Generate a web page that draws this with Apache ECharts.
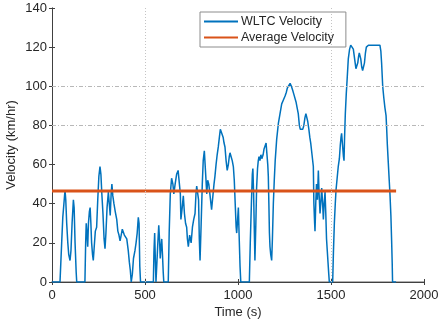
<!DOCTYPE html>
<html>
<head>
<meta charset="utf-8">
<script src="https://cdn.jsdelivr.net/npm/echarts@6/dist/echarts.min.js"></script>
<style>
  html, body { margin: 0; padding: 0; background: #fff; }
  #chart { width: 438px; height: 325px; }
</style>
</head>
<body>
<div id="chart"></div>
<script>
// WLTC velocity trace (time in s, speed in km/h)
var times = [
  0, 43, 52, 58, 64, 70, 74, 79, 85, 90, 97, 102, 108, 115, 119, 124, 130, 133,
  177, 181, 184, 188, 192, 196, 201, 205, 209, 213, 218, 222, 227, 233, 240, 246,
  252, 258, 263, 268, 274, 280, 285, 290, 296, 303, 308, 313, 318, 322, 327, 333,
  340, 348, 354, 360, 366, 372, 378, 383, 389, 395, 402, 410, 416, 421, 426, 432,
  438, 446, 452, 458, 464, 468, 472, 476,
  545, 548, 552, 556, 559, 563, 568, 574, 578, 582, 586, 590, 594, 598, 601,
  625, 630, 636, 643, 650, 655, 662, 670, 678, 685, 690, 693, 700, 706, 712, 718,
  724, 728, 733, 740, 748, 755, 762, 769, 774, 778, 783, 788, 792, 796, 802, 808,
  813, 819, 824, 828, 832, 837, 843, 850, 858, 865, 871, 876, 882, 888, 894, 900,
  905, 909, 914, 920, 925, 930, 936, 942, 948, 953, 957, 963, 969, 975, 980, 985,
  990, 993, 998, 1002, 1006, 1011, 1015,
  1061, 1066, 1072, 1077, 1080, 1084, 1088, 1091, 1096, 1100, 1105, 1109, 1113,
  1118, 1123, 1128, 1135, 1140, 1146, 1151, 1155, 1160, 1163, 1166, 1169, 1172,
  1176, 1181, 1185, 1190, 1195, 1200, 1208, 1217, 1226, 1230, 1235, 1244, 1253,
  1260, 1265, 1272, 1280, 1287, 1294, 1300, 1306, 1312, 1318, 1324, 1330, 1335,
  1342, 1348, 1354, 1360, 1365, 1369, 1375, 1381, 1386, 1391, 1398, 1405, 1408,
  1412, 1414, 1418, 1422, 1427, 1432, 1436, 1441, 1445, 1450, 1455, 1459, 1463,
  1468, 1472, 1476, 1480, 1484, 1488, 1491,
  1509, 1513, 1518, 1523, 1527, 1533, 1539, 1545, 1550, 1554, 1557, 1562, 1567,
  1570, 1573, 1577, 1582, 1587, 1593, 1600, 1606, 1614, 1620, 1627, 1634, 1640,
  1644, 1648, 1652, 1656, 1660, 1665, 1670, 1675, 1680, 1685, 1690, 1695, 1701,
  1763, 1768, 1772, 1778, 1784, 1790, 1796, 1799, 1803, 1808, 1813, 1817, 1822,
  1826, 1829, 1831, 1850
];
var speeds = [
  0, 0, 20, 33, 40, 47, 42, 30, 20, 14, 11, 16, 30, 42, 38, 20, 5, 0,
  0, 20, 30, 25, 18, 30, 36, 38, 30, 20, 14, 11, 18, 26, 28, 42,
  54, 59, 55, 45, 35, 22, 17, 25, 38, 46, 40, 34, 45, 50, 44, 40,
  36, 32, 26, 24, 21, 24, 27, 27, 24, 24, 22, 16, 10, 6, 0, 4,
  12, 16, 20, 25, 33, 30, 8, 0,
  0, 15, 25, 10, 0, 0, 18, 29, 22, 12, 18, 22, 14, 5, 0,
  0, 25, 45, 53, 50, 45, 50, 55, 57, 58, 45, 32, 38, 44, 35, 30,
  28, 22, 18, 24, 20, 28, 32, 35, 45, 49, 50, 42, 22, 11, 30, 50,
  62, 67, 67, 52, 45, 52, 50, 44, 37, 44, 50, 54, 60, 65, 69, 74,
  78, 78, 77, 74, 71, 69, 62, 57, 60, 64, 66, 64, 62, 59, 52, 40,
  28, 25, 32, 38, 24, 8, 0,
  0, 20, 40, 55, 58, 45, 25, 11, 30, 48, 58, 62, 64,
  62, 65, 63, 65, 68, 69, 71, 66, 60, 54, 40, 25, 18,
  14, 11, 22, 40, 52, 62, 73, 81, 86, 86, 91, 93, 95,
  97, 99, 100, 101.5, 100, 98, 96, 95, 92, 89, 86, 80, 78,
  79, 78, 80, 84, 86, 85, 82, 78, 74, 71, 65, 59, 40,
  30, 26, 40, 50, 42, 57, 45, 35, 40, 48, 40, 32, 40,
  46, 35, 22, 16, 10, 4, 0,
  0, 15, 30, 40, 47, 53, 59, 63, 70, 74, 76, 70, 64,
  62, 74, 86, 96, 104, 114, 119, 121, 121, 119, 114, 109, 108,
  112, 115, 117, 118, 114, 110, 108, 108, 112, 117, 120, 121, 121,
  121, 118, 112, 100, 94, 89, 85, 79, 70, 61, 52, 45, 34,
  21, 10, 0, 0
];
var avgSpeed = 46.5;
var avgSpan = [0, 1850];
var xTicks = { min: 0, max: 2000, step: 500 };
var yTicks = { min: 0, max: 140, step: 20 };

var trace = times.map(function (t, i) { return [t, speeds[i]]; });
var avgLine = avgSpan.map(function (t) { return [t, avgSpeed]; });

var myChart = echarts.init(document.getElementById('chart'));
var txt = '#262626';
var font = 'Liberation Sans, Arial, sans-serif';

var option = {
  animation: false,
  backgroundColor: '#fff',
  textStyle: { fontFamily: font },
  grid: { left: 52, right: 14, top: 8, bottom: 43, containLabel: false, outerBoundsMode: 'none' },
  legend: {
    orient: 'vertical',
    left: 200,
    top: 12,
    padding: [3, 12, 3, 4],
    itemGap: 3,
    itemWidth: 34,
    itemHeight: 2,
    icon: 'rect',
    borderColor: '#8c8c8c',
    borderWidth: 1,
    backgroundColor: '#fff',
    textStyle: { fontSize: 12.5, color: txt, fontFamily: font, padding: [0, 0, 0, -2] },
    data: ['WLTC Velocity', 'Average Velocity']
  },
  xAxis: [
    {
      type: 'value', min: xTicks.min, max: xTicks.max, interval: xTicks.step,
      name: 'Time (s)', nameLocation: 'middle', nameGap: 24, nameMoveOverlap: false,
      nameTextStyle: { fontSize: 13, color: txt },
      axisLine: { lineStyle: { color: '#b0b0b0', width: 2 } },
      axisTick: { inside: true, length: 3, lineStyle: { color: '#404040' } },
      axisLabel: { fontSize: 13, color: txt, margin: 7, formatter: function (v) { return String(v); } },
      splitLine: { show: false }
    },
    {
      type: 'value', position: 'top', min: xTicks.min, max: xTicks.max, interval: xTicks.step,
      axisLine: { show: true, lineStyle: { color: '#404040', width: 1 } },
      axisTick: { inside: true, length: 3, lineStyle: { color: '#404040' } },
      axisLabel: { show: false },
      splitLine: { show: false }
    }
  ],
  yAxis: [
    {
      type: 'value', min: yTicks.min, max: yTicks.max, interval: yTicks.step,
      name: 'Velocity (km/hr)', nameLocation: 'middle', nameGap: 34, nameMoveOverlap: false,
      nameTextStyle: { fontSize: 13, color: txt },
      axisLine: { show: true, lineStyle: { color: '#707070', width: 1 } },
      axisTick: { show: true, inside: true, length: 3, lineStyle: { color: '#404040' } },
      axisLabel: { fontSize: 13, color: txt, margin: 5 },
      splitLine: { show: false }
    },
    {
      type: 'value', position: 'right', min: yTicks.min, max: yTicks.max, interval: yTicks.step,
      axisLine: { show: true, lineStyle: { color: '#404040', width: 1 } },
      axisTick: { show: true, inside: true, length: 3, lineStyle: { color: '#404040' } },
      axisLabel: { show: false },
      splitLine: { show: false }
    }
  ],
  series: [
    {
      // grid lines that show in the picture
      name: 'grid',
      type: 'line',
      data: [],
      z: 1,
      silent: true,
      markLine: {
        silent: true,
        symbol: 'none',
        label: { show: false },
        data: [
          { yAxis: 80, lineStyle: { color: '#b8b8b8', width: 1, type: [4, 2, 1, 2] } },
          { yAxis: 100, lineStyle: { color: '#b8b8b8', width: 1, type: [4, 2, 1, 2] } },
          { xAxis: 500, lineStyle: { color: '#c4c4c4', width: 1, type: [1, 2] } },
          { xAxis: 1500, lineStyle: { color: '#c4c4c4', width: 1, type: [1, 2] } }
        ]
      }
    },
    {
      name: 'WLTC Velocity',
      type: 'line',
      data: trace,
      z: 3,
      showSymbol: false,
      symbol: 'none',
      itemStyle: { color: '#0072BD' },
      lineStyle: { color: '#0072BD', width: 1.5 }
    },
    {
      name: 'Average Velocity',
      type: 'line',
      data: avgLine,
      z: 4,
      showSymbol: false,
      symbol: 'none',
      itemStyle: { color: '#D95319' },
      lineStyle: { color: '#D95319', width: 3 }
    }
  ]
};
myChart.setOption(option);
</script>
</body>
</html>
